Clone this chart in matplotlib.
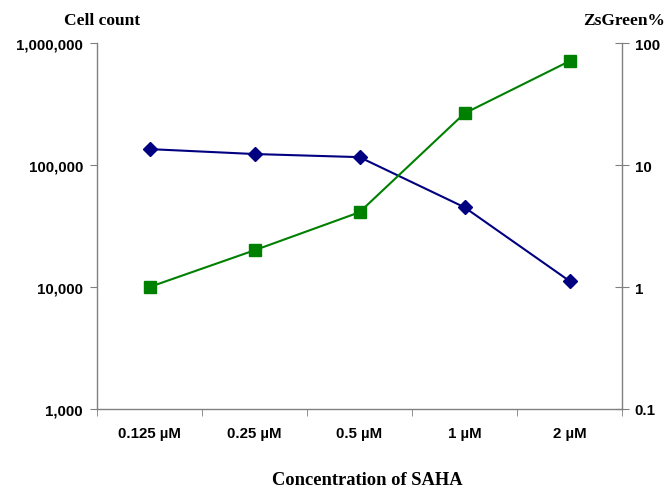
import matplotlib
matplotlib.use("Agg")
import matplotlib.pyplot as plt
from matplotlib.ticker import FixedLocator, FuncFormatter

categories = ["0.125 µM", "0.25 µM", "0.5 µM", "1 µM", "2 µM"]
cell_count = [135000, 123000, 116000, 45000, 11200]
zsgreen_pct = [1.0, 2.0, 4.1, 26.5, 71.0]

left_ticks = [1000, 10000, 100000, 1000000]
right_ticks = [0.1, 1, 10, 100]
right_tick_labels = ["0.1", "1", "10", "100"]

fig = plt.figure(figsize=(6.7, 4.89), dpi=100)
ax = fig.add_axes([97/670, 1-410/489, 525/670, 366/489])
ax2 = ax.twinx()

x = list(range(len(categories)))
spine_col = "#808080"

ax.plot(x, cell_count, color="#000080", marker="D", markersize=7, lw=1.5, zorder=3)
ax2.plot(x, zsgreen_pct, color="#008000", marker="s", markersize=9, lw=1.5, zorder=3)

ax.set_yscale("log")
ax.set_ylim(1000, 1000000)
ax.yaxis.set_major_locator(FixedLocator(left_ticks))
ax.yaxis.set_minor_locator(FixedLocator([]))
ax.yaxis.set_major_formatter(FuncFormatter(lambda v, p: f"{int(v):,}"))

ax2.set_yscale("log")
ax2.set_ylim(0.1, 100)
ax2.yaxis.set_major_locator(FixedLocator(right_ticks))
ax2.yaxis.set_minor_locator(FixedLocator([]))
ax2.set_yticklabels(right_tick_labels)

ax.set_xlim(-0.5, len(categories) - 0.5)
ax.set_xticks(x)
ax.set_xticklabels(categories)
ax.set_xticks([i + 0.5 for i in range(-1, len(categories))], minor=True)
ax.tick_params(axis="x", which="major", length=0, pad=12)
ax.tick_params(axis="x", which="minor", length=5, color=spine_col, direction="out")
ax.tick_params(axis="y", which="major", length=5, color=spine_col, direction="out", pad=5)
ax2.tick_params(axis="y", which="major", length=10, color=spine_col, direction="inout", pad=4)

for lab in ax.get_xticklabels() + ax.get_yticklabels() + ax2.get_yticklabels():
    lab.set_fontfamily("Liberation Sans")
    lab.set_fontweight("bold")
    lab.set_fontsize(10.8)

for a in (ax, ax2):
    a.spines["top"].set_visible(False)
    for s in ("left", "right", "bottom"):
        a.spines[s].set_color(spine_col)
        a.spines[s].set_linewidth(1.0)
ax2.spines["left"].set_visible(False)
ax2.spines["bottom"].set_visible(False)
ax.spines["right"].set_visible(False)

fig.text(102/670, 1-21/489, "Cell count", ha="center", va="center",
         family="Liberation Serif", weight="bold", size=12.5)
fig.text(624/670, 1-21/489, "ZsGreen%", ha="center", va="center",
         family="Liberation Serif", weight="bold", size=12.5)
fig.text(367/670, 1-481/489, "Concentration of SAHA", ha="center", va="center",
         family="Liberation Serif", weight="bold", size=13.3)

fig.savefig("out.png", dpi=100)
